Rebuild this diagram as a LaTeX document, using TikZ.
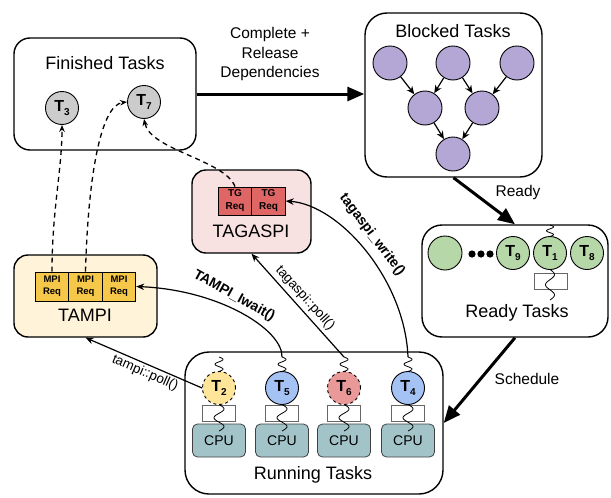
\documentclass[tikz,border=0pt]{standalone}
\usepackage{fontspec}
\setmainfont{Liberation Sans}
\usetikzlibrary{arrows.meta}
\definecolor{purp}{HTML}{B4A7D6}
\definecolor{grn}{HTML}{B6D7A8}
\definecolor{gry}{HTML}{CCCCCC}
\definecolor{yel}{HTML}{FFE599}
\definecolor{redc}{HTML}{EA9999}
\definecolor{blu}{HTML}{A4C2F4}
\definecolor{cpuc}{HTML}{A2C4C9}
\definecolor{pinkbg}{HTML}{F8E1E1}
\definecolor{tgred}{HTML}{E06666}
\definecolor{yelbg}{HTML}{FFF4D9}
\definecolor{mpiy}{HTML}{F6C84A}
\newcommand\tsk[1]{T\raisebox{-4pt}{\fontsize{10}{10}\selectfont #1}}
\newcommand\squig[4]{\draw[sq] plot[variable=\t,domain=0:1,samples=40,smooth] ({#1+#4*sin(540*\t)},{#2+(#3-#2)*\t});}
\begin{document}
\begin{tikzpicture}[x=1pt,y=-1pt,
  panel/.style={draw, line width=1.4pt, rounded corners=16pt, inner sep=0pt},
  ttl/.style={font=\fontsize{18}{20}\selectfont, inner sep=0pt},
  lbl/.style={font=\fontsize{15.5}{19.5}\selectfont, align=center, inner sep=0pt},
  task/.style={circle, draw, line width=0.9pt, minimum size=33pt, inner sep=0pt, font=\fontsize{16}{16}\selectfont\bfseries},
  bnode/.style={circle, draw, line width=0.9pt, minimum size=34pt, inner sep=0pt, fill=purp},
  req/.style={draw, line width=0.9pt, align=center, inner sep=0pt, minimum height=29pt, minimum width=33.5pt},
  slot/.style={draw=black!60, fill=white, line width=0.8pt, minimum width=33pt, minimum height=16pt, inner sep=0pt},
  cpu/.style={draw=black!75, line width=0.8pt, fill=cpuc, rounded corners=5pt, minimum width=53pt, minimum height=33pt, inner sep=0pt, font=\fontsize{14}{14}\selectfont},
  sq/.style={line width=0.8pt},
  bigarrow/.style={line width=3pt, -{Triangle[length=17pt,width=14pt]}},
  callarrow/.style={line width=1.2pt, -{Stealth[length=8pt,width=6.5pt]}},
  dasharrow/.style={line width=1.3pt, dash pattern=on 5pt off 4pt, -{Stealth[length=7pt,width=5.5pt]}},
  dagarrow/.style={line width=1.2pt, -{Stealth[length=8pt,width=7pt]}},
  call/.style={font=\fontsize{14}{14}\selectfont\bfseries, inner sep=0pt},
  poll/.style={font=\fontsize{13.5}{13.5}\selectfont, inner sep=0pt},
]
\useasboundingbox (0,0) rectangle (611,498);

% Finished tasks
\node[panel, minimum width=182pt, minimum height=112pt] (fin) at (105,94) {};
\node[ttl] (fint) at (105,63) {Finished Tasks};
\node[task, fill=gry] (t3) at (62,108) {\tsk{3}};
\node[task, fill=gry] (t7) at (144,102) {\tsk{7}};

% Blocked tasks
\node[panel, rounded corners=22pt, minimum width=177pt, minimum height=164pt] (blk) at (453.5,95) {};
\node[ttl] (blkt) at (453,31) {Blocked Tasks};
\node[bnode] (b1) at (390,63) {};
\node[bnode] (b2) at (453,63) {};
\node[bnode] (b3) at (517,63) {};
\node[bnode] (b4) at (425,108) {};
\node[bnode] (b5) at (482,108) {};
\node[bnode] (b6) at (453,154) {};
\draw[dagarrow] (b1) -- (b4);
\draw[dagarrow] (b2) -- (b4);
\draw[dagarrow] (b2) -- (b5);
\draw[dagarrow] (b3) -- (b5);
\draw[dagarrow] (b4) -- (b6);
\draw[dagarrow] (b5) -- (b6);

% Ready tasks
\node[panel, rounded corners=20pt, minimum width=186pt, minimum height=112pt] (rdy) at (515,281) {};
\node[ttl] (rdyt) at (517,313) {Ready Tasks};
\node[task, fill=grn, minimum size=34pt] (g0) at (445,253) {};
\fill (472,254) circle (3.6pt) (481,254) circle (3.6pt) (490,254) circle (3.6pt);
\node[task, fill=grn] (t9) at (513,253) {\tsk{9}};
\node[task, fill=grn] (t1) at (550,253) {\tsk{1}};
\node[task, fill=grn] (t8) at (587,253) {\tsk{8}};
\node[slot] (r1) at (551,281) {};
\squig{550}{225}{236.5}{3.5}
\squig{550}{269.5}{300}{4.5}

% Running tasks
\node[panel, rounded corners=24pt, minimum width=258pt, minimum height=142pt] (run) at (314,423) {};
\node[ttl] (runt) at (313,475) {Running Tasks};
\node[task, fill=yel, dashed] (t2) at (219,388) {\tsk{2}};
\node[task, fill=blu] (t5) at (282,388) {\tsk{5}};
\node[task, fill=redc, dashed] (t6) at (344,388) {\tsk{6}};
\node[task, fill=blu] (t4) at (408,388) {\tsk{4}};
\foreach \x/\n in {219/2,282/5,344/6,408/4} {
  \node[slot] (sl\n) at (\x,413) {};
  \node[cpu] (cpu\n) at (\x,440.5) {CPU};
  \squig{\x}{357}{371.5}{4}
  \squig{\x}{404.5}{431}{5}
}
\coordinate (s2) at (219,357);
\coordinate (s5) at (282,357);
\coordinate (s6) at (344,357);
\coordinate (s4) at (408,357);

% TAGASPI
\node[panel, fill=pinkbg, rounded corners=14pt, minimum width=119pt, minimum height=83pt] (tgs) at (251.5,211.5) {};
\node[ttl] (tgst) at (251,231) {TAGASPI};
\node[req, fill=tgred, font=\bfseries\fontsize{10}{13}\selectfont, minimum height=28pt] (tg1) at (235,201) {TG\\Req};
\node[req, fill=tgred, font=\bfseries\fontsize{10}{13}\selectfont, minimum height=28pt] (tg2) at (268.5,201) {TG\\Req};

% TAMPI
\node[panel, fill=yelbg, rounded corners=14pt, minimum width=143pt, minimum height=82pt] (tmp) at (85.5,296) {};
\node[ttl] (tmpt) at (85,315) {TAMPI};
\node[req, fill=mpiy, font=\bfseries\fontsize{9.5}{11.7}\selectfont] (mpi1) at (52,286.5) {MPI\\Req};
\node[req, fill=mpiy, font=\bfseries\fontsize{9.5}{11.7}\selectfont] (mpi2) at (85.5,286.5) {MPI\\Req};
\node[req, fill=mpiy, font=\bfseries\fontsize{9.5}{11.7}\selectfont] (mpi3) at (119,286.5) {MPI\\Req};

% big flow arrows
\draw[bigarrow] (fin.east) -- (fin.east -| blk.west);
\node[lbl] (lc) at (270,54) {Complete +\\Release\\Dependencies};
\draw[bigarrow] (blk.south) -- (rdy.north);
\node[lbl] (lr) at (518,192) {Ready};
\draw[bigarrow] (rdy.south) -- (run.east);
\node[lbl] (ls) at (527,379) {Schedule};

% dashed completion arrows
\draw[dasharrow] (mpi1.north) .. controls (52,210) and (62,170) .. (t3.south);
\draw[dasharrow] (mpi2.north) .. controls (88,180) and (100,105) .. (t7.west);
\draw[dasharrow] (tg1.north) .. controls (225,160) and (150,150) .. (t7.south);

% call arrows
\draw[callarrow] (s5) .. controls (283,330) and (220,290) .. (mpi3.east);
\node[call, rotate=-29] (liw) at (234,296) {TAMPI\_Iwait()};
\draw[callarrow] (s4) .. controls (405,280) and (340,205) .. (tg2.east);
\node[call, rotate=-53] (lw) at (372,235) {tagaspi\_write()};
\draw[callarrow] (s6) -- (tgs.south);
\node[poll, rotate=-48] (ltp) at (305,298) {tagaspi::poll()};
\draw[callarrow] (t2.west) -- (tmp.south);
\node[poll, rotate=-23.6] (lmp) at (145,373) {tampi::poll()};
\end{tikzpicture}
\end{document}
